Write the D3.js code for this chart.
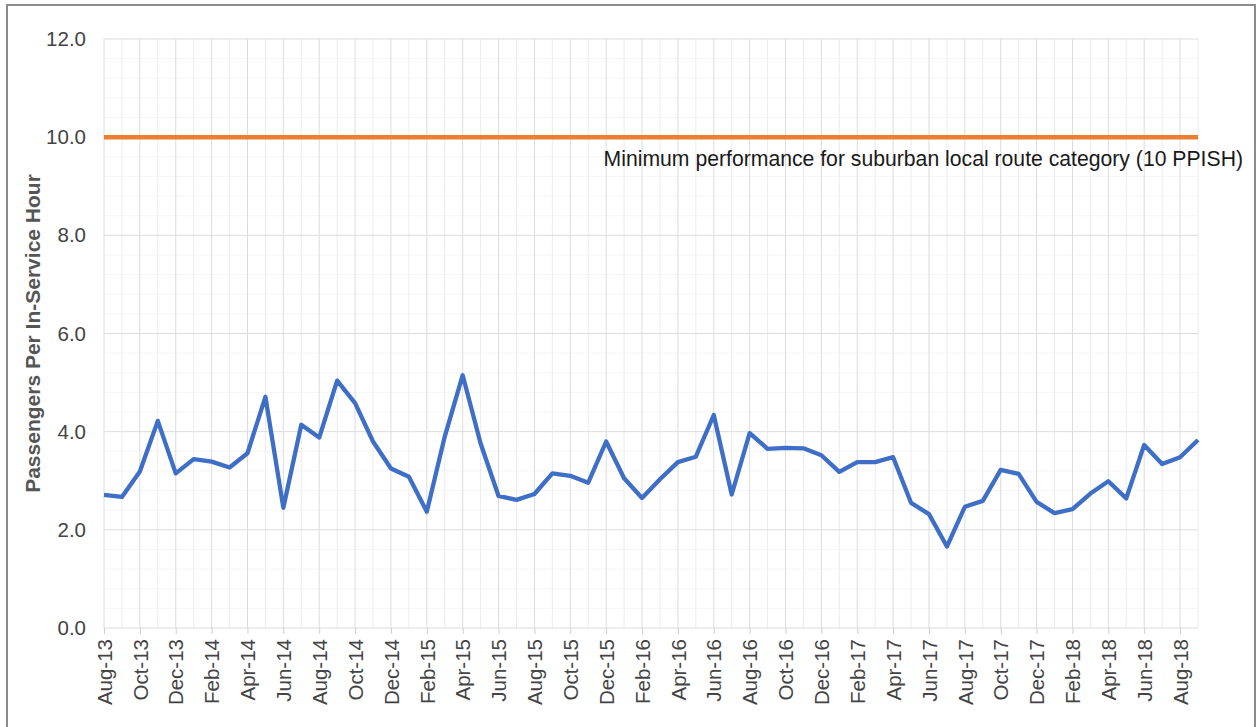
<!DOCTYPE html>
<html>
<head>
<meta charset="utf-8">
<script src="https://cdn.jsdelivr.net/npm/d3@7"></script>
<style>
  html, body { margin: 0; padding: 0; background: #fff; }
  svg { display: block; font-family: "Liberation Sans", Arial, sans-serif; }
</style>
</head>
<body>
<svg id="chart" width="1257" height="727"></svg>
<script>
// Monthly productivity, Aug 2013 – Sep 2018
const months = [
  "Aug-13","Sep-13","Oct-13","Nov-13","Dec-13",
  "Jan-14","Feb-14","Mar-14","Apr-14","May-14","Jun-14","Jul-14","Aug-14","Sep-14","Oct-14","Nov-14","Dec-14",
  "Jan-15","Feb-15","Mar-15","Apr-15","May-15","Jun-15","Jul-15","Aug-15","Sep-15","Oct-15","Nov-15","Dec-15",
  "Jan-16","Feb-16","Mar-16","Apr-16","May-16","Jun-16","Jul-16","Aug-16","Sep-16","Oct-16","Nov-16","Dec-16",
  "Jan-17","Feb-17","Mar-17","Apr-17","May-17","Jun-17","Jul-17","Aug-17","Sep-17","Oct-17","Nov-17","Dec-17",
  "Jan-18","Feb-18","Mar-18","Apr-18","May-18","Jun-18","Jul-18","Aug-18","Sep-18"
];

const ppish = [
  2.71, 2.67, 3.19, 4.22, 3.15,
  3.44, 3.39, 3.27, 3.56, 4.71, 2.45, 4.14, 3.88, 5.04, 4.58, 3.80, 3.25,
  3.08, 2.37, 3.90, 5.15, 3.76, 2.69, 2.61, 2.73, 3.15, 3.10, 2.96, 3.80,
  3.05, 2.65, 3.03, 3.38, 3.49, 4.34, 2.72, 3.97, 3.65, 3.67, 3.66, 3.52,
  3.18, 3.38, 3.38, 3.48, 2.55, 2.32, 1.66, 2.47, 2.59, 3.22, 3.14, 2.57,
  2.34, 2.42, 2.74, 2.99, 2.64, 3.73, 3.34, 3.48, 3.83
];

const minimumStandard = 10;
const standardLabel = "Minimum performance for suburban local route category (10 PPISH)";
const yTicks = [0, 2, 4, 6, 8, 10, 12];
const yTitle = "Passengers Per In-Service Hour";

const svg = d3.select("#chart");
const plotLeft = 104, plotRight = 1198, plotTop = 39, plotBottom = 628;

const x = d3.scalePoint().domain(months).range([plotLeft, plotRight]).padding(0);
const y = d3.scaleLinear().domain([0, 12]).range([plotBottom, plotTop]);

const labelled = months.filter((m, i) => i % 2 === 0);
const unlabelled = months.filter((m, i) => i % 2 === 1);

// outer frame
svg.append("rect")
  .attr("x", 7).attr("y", 5).attr("width", 1248).attr("height", 740)
  .attr("fill", "none").attr("stroke", "#8c8c8c").attr("stroke-width", 2);

const grid = svg.append("g");

// minor horizontal gridlines
grid.selectAll("line.hminor")
  .data(d3.range(0, 12.001, 0.4).filter(v => Math.abs(v / 2 - Math.round(v / 2)) > 0.01))
  .join("line")
  .attr("x1", plotLeft).attr("x2", plotRight)
  .attr("y1", d => y(d)).attr("y2", d => y(d))
  .attr("stroke", "#f5f5f5").attr("stroke-width", 1);

// minor vertical gridlines
grid.selectAll("line.vminor")
  .data(unlabelled)
  .join("line")
  .attr("x1", d => x(d)).attr("x2", d => x(d))
  .attr("y1", plotTop).attr("y2", plotBottom)
  .attr("stroke", "#ececec").attr("stroke-width", 1);

// major vertical gridlines
grid.selectAll("line.vmajor")
  .data(labelled)
  .join("line")
  .attr("x1", d => x(d)).attr("x2", d => x(d))
  .attr("y1", plotTop).attr("y2", plotBottom)
  .attr("stroke", "#dcdcdc").attr("stroke-width", 1);

// major horizontal gridlines
grid.selectAll("line.hmajor")
  .data(yTicks)
  .join("line")
  .attr("x1", plotLeft).attr("x2", plotRight)
  .attr("y1", d => y(d)).attr("y2", d => y(d))
  .attr("stroke", "#dcdcdc").attr("stroke-width", 1);

// y axis labels
const yAxis = d3.axisLeft(y).tickValues(yTicks).tickFormat(d3.format(".1f")).tickSize(0).tickPadding(18);
svg.append("g")
  .attr("transform", `translate(${plotLeft},0)`)
  .call(yAxis)
  .call(g => g.select(".domain").remove())
  .call(g => g.selectAll("text")
    .attr("font-size", 20.5)
    .attr("font-family", "Liberation Sans, Arial, sans-serif")
    .attr("fill", "#444"));

// x axis with rotated month labels
const xAxis = d3.axisBottom(x).tickValues(labelled).tickSize(6).tickPadding(6);
svg.append("g")
  .attr("transform", `translate(0,${plotBottom})`)
  .call(xAxis)
  .call(g => g.select(".domain").remove())
  .call(g => g.selectAll(".tick line").attr("stroke", "#cfcfcf"))
  .call(g => g.selectAll("text")
    .attr("font-size", 20.5)
    .attr("font-family", "Liberation Sans, Arial, sans-serif")
    .attr("fill", "#444")
    .attr("transform", "rotate(-90)")
    .attr("x", -11)
    .attr("y", 0)
    .attr("dy", "0.35em")
    .style("text-anchor", "end"));

// y axis title
svg.append("text")
  .attr("transform", `translate(40,${(plotTop + plotBottom) / 2}) rotate(-90)`)
  .attr("text-anchor", "middle")
  .attr("font-size", 21)
  .attr("font-weight", "bold")
  .attr("fill", "#555")
  .text(yTitle);

// minimum standard line
svg.append("line")
  .attr("x1", plotLeft).attr("x2", plotRight)
  .attr("y1", y(minimumStandard)).attr("y2", y(minimumStandard))
  .attr("stroke", "#ed7d31").attr("stroke-width", 4.5);

svg.append("text")
  .attr("x", 1243).attr("y", 166)
  .attr("text-anchor", "end")
  .attr("font-size", 21.2)
  .attr("fill", "#1a1a1a")
  .text(standardLabel);

// ridership series
const line = d3.line().x((d, i) => x(months[i])).y(d => y(d));
svg.append("path")
  .datum(ppish)
  .attr("d", line)
  .attr("fill", "none")
  .attr("stroke", "#3e6ec6")
  .attr("stroke-width", 4.3)
  .attr("stroke-linejoin", "round");
</script>
</body>
</html>
